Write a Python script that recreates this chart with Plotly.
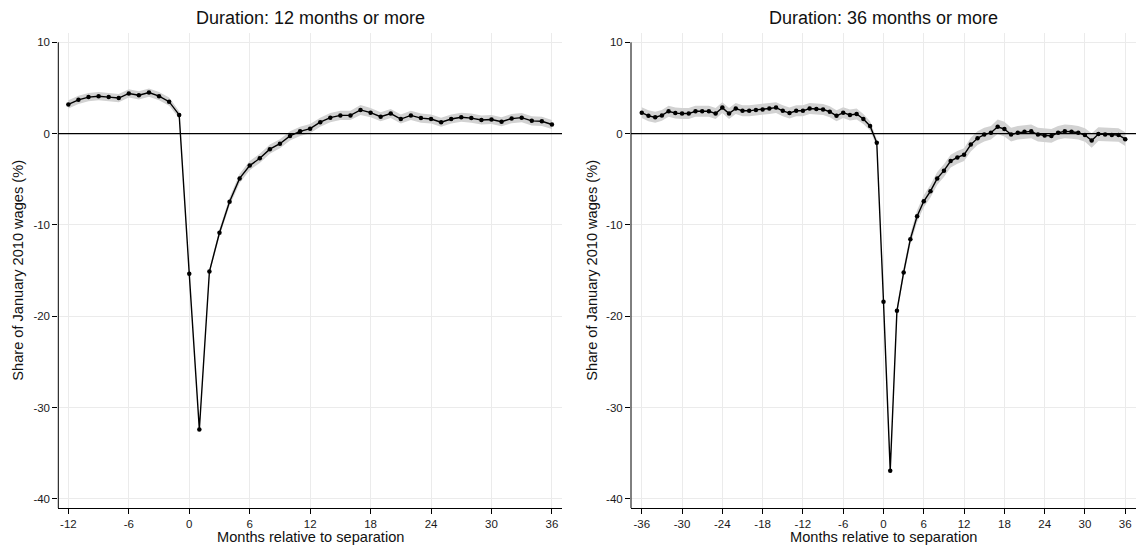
import plotly.graph_objects as go

# ---- data ----
months_12 = list(range(-12, 37))
share_12 = [3.2, 3.7, 4.0, 4.1, 4.0, 3.9, 4.4, 4.2, 4.5, 4.1, 3.5, 2.05,
            -15.35, -32.4, -15.1, -10.85, -7.45, -4.9, -3.5, -2.7, -1.7, -1.1, -0.25, 0.25,
            0.55, 1.25, 1.75, 2.0, 2.0, 2.6, 2.3, 1.85, 2.2, 1.6, 2.0, 1.7,
            1.6, 1.25, 1.6, 1.8, 1.7, 1.5, 1.55, 1.3, 1.65, 1.75, 1.4, 1.35, 1.0]
ci_12 = [0.45, 0.45, 0.45, 0.45, 0.45, 0.45, 0.45, 0.45, 0.45, 0.45, 0.45, 0.4,
         0.15, 0.2, 0.3, 0.4, 0.45, 0.5, 0.5, 0.5, 0.5, 0.5, 0.5, 0.5,
         0.5, 0.5, 0.5, 0.5, 0.5, 0.55, 0.5, 0.5, 0.5, 0.5, 0.5, 0.5,
         0.5, 0.5, 0.5, 0.5, 0.5, 0.5, 0.5, 0.5, 0.5, 0.5, 0.5, 0.5, 0.5]

months_36 = list(range(-36, 37))
share_36 = [2.3, 1.95, 1.8, 2.0, 2.45, 2.25, 2.2, 2.2, 2.45, 2.45, 2.45, 2.2,
            2.85, 2.2, 2.75, 2.5, 2.5, 2.6, 2.65, 2.75, 2.85, 2.5, 2.25, 2.5,
            2.5, 2.75, 2.7, 2.65, 2.4, 1.95, 2.3, 2.05, 2.15, 1.6, 0.85, -1.0,
            -18.4, -36.9, -19.4, -15.2, -11.55, -9.05, -7.4, -6.3, -4.9, -4.05, -3.0, -2.6,
            -2.3, -1.2, -0.5, -0.1, 0.1, 0.75, 0.5, -0.1, 0.1, 0.2, 0.25, -0.1,
            -0.2, -0.25, 0.1, 0.25, 0.2, 0.1, -0.15, -0.75, -0.05, -0.1, -0.15, -0.15, -0.6]
ci_36 = [0.6, 0.6, 0.6, 0.6, 0.6, 0.6, 0.6, 0.6, 0.6, 0.6, 0.6, 0.6,
         0.6, 0.6, 0.6, 0.6, 0.6, 0.6, 0.6, 0.6, 0.6, 0.6, 0.6, 0.6,
         0.6, 0.6, 0.6, 0.6, 0.6, 0.6, 0.6, 0.6, 0.6, 0.55, 0.5, 0.4,
         0.2, 0.3, 0.4, 0.5, 0.6, 0.65, 0.65, 0.7, 0.7, 0.7, 0.7, 0.7,
         0.7, 0.75, 0.75, 0.75, 0.75, 0.8, 0.8, 0.75, 0.75, 0.75, 0.75, 0.75,
         0.75, 0.75, 0.75, 0.75, 0.75, 0.75, 0.75, 0.8, 0.75, 0.75, 0.75, 0.75, 0.75]

titles = ["Duration: 12 months or more", "Duration: 36 months or more"]
x_title = "Months relative to separation"
y_title = "Share of January 2010 wages (%)"
ticks_x_12 = [-12, -6, 0, 6, 12, 18, 24, 30, 36]
ticklabels_x_12 = ["-12", "-6", "0", "6", "12", "18", "24", "30", "36"]
ticks_x_36 = [-36, -30, -24, -18, -12, -6, 0, 6, 12, 18, 24, 30, 36]
ticklabels_x_36 = ["-36", "-30", "-24", "-18", "-12", "-6", "0", "6", "12", "18", "24", "30", "36"]
ticks_y = [10, 0, -10, -20, -30, -40]
ticklabels_y = ["10", "0", "-10", "-20", "-30", "-40"]

FONT = "Liberation Sans, Arial, sans-serif"
W, H = 1136, 546

fig = go.Figure()

def add_panel(xs, ys, ci, xa, ya):
    up = [y + c for y, c in zip(ys, ci)]
    lo = [y - c for y, c in zip(ys, ci)]
    fig.add_trace(go.Scatter(x=xs, y=up, mode="lines", line=dict(width=0, color="rgba(0,0,0,0)"),
                             xaxis=xa, yaxis=ya, showlegend=False, hoverinfo="skip"))
    fig.add_trace(go.Scatter(x=xs, y=lo, mode="lines", line=dict(width=0, color="rgba(0,0,0,0)"),
                             fill="tonexty", fillcolor="rgb(210,210,210)",
                             xaxis=xa, yaxis=ya, showlegend=False, hoverinfo="skip"))
    fig.add_trace(go.Scatter(x=xs, y=ys, mode="lines+markers",
                             line=dict(color="black", width=1.4),
                             marker=dict(color="black", size=4.5),
                             xaxis=xa, yaxis=ya, showlegend=False))

add_panel(months_12, share_12, ci_12, "x", "y")
add_panel(months_36, share_36, ci_36, "x2", "y2")

ydom = [1 - 508.3 / H, 1 - 33 / H]
dom1 = [58.3 / W, 562 / W]
dom2 = [631 / W, 1.0]

axis_common = dict(showgrid=True, gridcolor="#ebebeb", gridwidth=1,
                   ticks="outside", ticklen=5, tickwidth=1, tickcolor="black",
                   tickfont=dict(family=FONT, size=11.5, color="#1a1a1a"),
                   zeroline=False)

fig.update_layout(
    width=W, height=H,
    margin=dict(l=0, r=0, t=0, b=0),
    plot_bgcolor="white", paper_bgcolor="white",
    xaxis=dict(domain=dom1, range=[-13, 37], tickvals=ticks_x_12, ticktext=ticklabels_x_12,
               anchor="y", showline=True, linecolor="black", linewidth=1, **axis_common),
    yaxis=dict(domain=ydom, range=[-41.02, 11.02], tickvals=ticks_y, ticktext=ticklabels_y,
               anchor="x", showline=False, **axis_common),
    xaxis2=dict(domain=dom2, range=[-37.6, 37.6], tickvals=ticks_x_36, ticktext=ticklabels_x_36,
                anchor="y2", showline=True, linecolor="black", linewidth=1, **axis_common),
    yaxis2=dict(domain=ydom, range=[-41.02, 11.02], tickvals=ticks_y, ticktext=ticklabels_y,
                anchor="x2", showline=False, **axis_common),
)

shapes = []
for xr, yr in [("x", "y"), ("x2", "y2")]:
    shapes.append(dict(type="line", xref=f"{xr} domain", yref=yr, x0=0, x1=1, y0=0, y1=0,
                       line=dict(color="black", width=1.2), layer="above"))
    shapes.append(dict(type="line", xref=f"{xr} domain", yref=yr, x0=0, x1=0, y0=-41.02, y1=10,
                       line=dict(color="black", width=1), layer="above"))
fig.update_layout(shapes=shapes)

ann = []
for i, (dom, t) in enumerate([(dom1, titles[0]), (dom2, titles[1])]):
    cx = (dom[0] + dom[1]) / 2
    ann.append(dict(text=t, x=cx, y=1 - 18 / H, xref="paper", yref="paper",
                    showarrow=False, xanchor="center", yanchor="middle",
                    font=dict(family=FONT, size=18, color="#111")))
    ann.append(dict(text=x_title, x=cx, y=0, xref="paper", yref="paper",
                    showarrow=False, xanchor="center", yanchor="bottom", yshift=-1,
                    font=dict(family=FONT, size=14.6, color="#111")))
    yx = 18 / W if i == 0 else 592 / W
    ann.append(dict(text=y_title, x=yx, y=(ydom[0] + ydom[1]) / 2, xref="paper", yref="paper",
                    showarrow=False, xanchor="center", yanchor="middle", textangle=-90,
                    font=dict(family=FONT, size=14.6, color="#111")))
fig.update_layout(annotations=ann)

fig.write_html("out.html", config={"displayModeBar": False},
               post_script="document.body.style.margin='0';document.body.style.overflow='hidden';")
